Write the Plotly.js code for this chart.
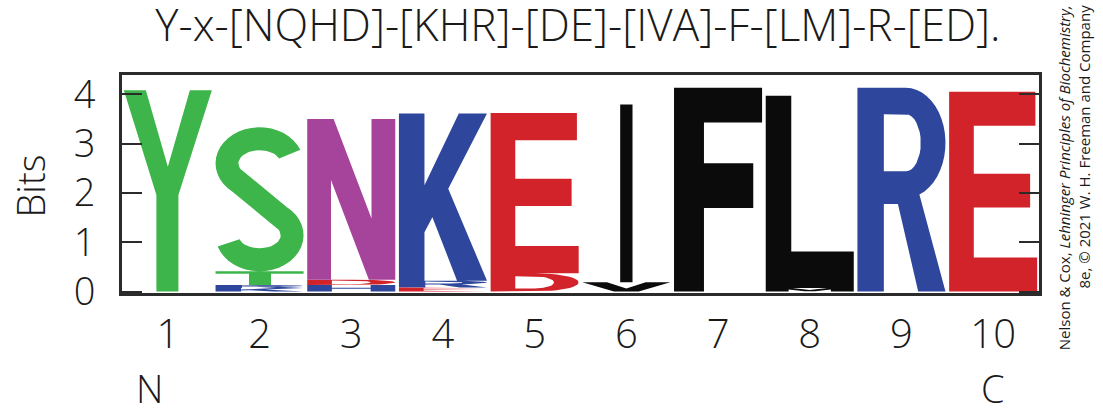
<!DOCTYPE html>
<html>
<head>
<meta charset="utf-8">
<script src="https://cdn.plot.ly/plotly-3.0.1.min.js"></script>
<style>
  html, body { margin: 0; padding: 0; background: #fff; }
  #logo { width: 1103px; height: 414px; }
</style>
</head>
<body>
<div id="logo"></div>
<script>
// motif logo data: letters of each position, stacked bottom -> top, heights in bits
const positions = [1, 2, 3, 4, 5, 6, 7, 8, 9, 10];
const stackLetters = [
  ['Y'],
  ['K', 'R', 'T', 'S'],
  ['H', 'D', 'N'],
  ['E', 'R', 'K'],
  ['D', 'E'],
  ['V', 'I'],
  ['F'],
  ['M', 'L'],
  ['R'],
  ['E']
];
const stackBits = [
  [4.08],
  [0.07, 0.06, 0.28, 2.92],
  [0.13, 0.11, 3.26],
  [0.08, 0.14, 3.39],
  [0.37, 3.25],
  [0.19, 3.6],
  [4.13],
  [0.07, 3.9],
  [4.13],
  [4.05]
];
const tickLabels = ['1', '2', '3', '4', '5', '6', '7', '8', '9', '10'];
const endLabels = ['N', 'C'];
const endPositions = [1, 10];
const motif = 'Y-x-[NQHD]-[KHR]-[DE]-[IVA]-F-[LM]-R-[ED].';

// residue colours (chemistry scheme)
const colors = {
  polar: '#3db54a', amide: '#a6449b', basic: '#2e479c', acidic: '#d2232a', hydrophobic: '#0b0b0b'
};
const letterGroup = {
  Y: 'polar', S: 'polar', T: 'polar',
  N: 'amide',
  K: 'basic', R: 'basic', H: 'basic',
  D: 'acidic', E: 'acidic',
  I: 'hydrophobic', V: 'hydrophobic', F: 'hydrophobic', L: 'hydrophobic', M: 'hydrophobic'
};

function arc(cx, cy, rx, ry, a0, a1, n) {
  const pts = [];
  for (let i = 0; i <= n; i++) {
    const a = (a0 + (a1 - a0) * i / n) * Math.PI / 180;
    pts.push([cx + rx * Math.cos(a), cy + ry * Math.sin(a)]);
  }
  return pts;
}

// glyph outlines in a unit box; first ring is the outline, the rest are holes
const sGlyph = [].concat(
  arc(0.5, 0.75, 0.5, 0.25, 22, 232, 24),
  arc(0.5, 0.25, 0.24, 0.09, 52, -162, 24),
  arc(0.5, 0.25, 0.5, 0.25, -162, 52, 24),
  arc(0.5, 0.75, 0.24, 0.09, 232, 22, 24)
);
const glyphs = {
  Y: [[[0, 1], [0.25, 1], [0.5, 0.62], [0.75, 1], [1, 1], [0.62, 0.48], [0.62, 0], [0.37, 0], [0.37, 0.48]]],
  S: [sGlyph],
  T: [[[0.38, 0], [0.38, 0.82], [0, 0.82], [0, 1], [1, 1], [1, 0.82], [0.63, 0.82], [0.63, 0]]],
  N: [[[0, 0], [0, 1], [0.3, 1], [0.73, 0.38], [0.73, 1], [1, 1], [1, 0], [0.7, 0], [0.27, 0.62], [0.27, 0]]],
  K: [[[0, 0], [0, 1], [0.29, 1], [0.29, 0.57], [0.68, 1], [1, 1], [0.56, 0.55], [1, 0], [0.66, 0], [0.38, 0.38], [0.29, 0.29], [0.29, 0]]],
  H: [[[0, 0], [0, 1], [0.28, 1], [0.28, 0.6], [0.72, 0.6], [0.72, 1], [1, 1], [1, 0], [0.72, 0], [0.72, 0.42], [0.28, 0.42], [0.28, 0]]],
  R: [
    [[0, 0], [0, 1], [0.55, 1]].concat(arc(0.55, 0.73, 0.45, 0.27, 90, -70, 20), [[1, 0], [0.69, 0], [0.46, 0.43], [0.3, 0.43], [0.3, 0]]),
    [[0.3, 0.59], [0.55, 0.59]].concat(arc(0.55, 0.73, 0.17, 0.14, -90, 90, 16), [[0.3, 0.87]])
  ],
  D: [
    [[0, 0], [0.5, 0]].concat(arc(0.5, 0.5, 0.5, 0.5, -90, 90, 24), [[0, 1]]),
    [[0.28, 0.17], [0.5, 0.17]].concat(arc(0.5, 0.5, 0.22, 0.33, -90, 90, 20), [[0.28, 0.83]])
  ],
  E: [[[0, 0], [1, 0], [1, 0.17], [0.28, 0.17], [0.28, 0.42], [0.92, 0.42], [0.92, 0.59], [0.28, 0.59], [0.28, 0.83], [0.98, 0.83], [0.98, 1], [0, 1]]],
  F: [[[0, 0], [0.34, 0], [0.34, 0.41], [0.9, 0.41], [0.9, 0.63], [0.34, 0.63], [0.34, 0.83], [1, 0.83], [1, 1], [0, 1]]],
  L: [[[0, 0], [1, 0], [1, 0.19], [0.29, 0.19], [0.29, 1], [0, 1]]],
  I: [[[0.43, 0], [0.57, 0], [0.57, 1], [0.43, 1]]],
  V: [[[0, 1], [0.28, 1], [0.5, 0.32], [0.72, 1], [1, 1], [0.64, 0], [0.36, 0]]],
  M: [[[0, 0], [0, 1], [0.3, 1], [0.5, 0.45], [0.7, 1], [1, 1], [1, 0], [0.74, 0], [0.74, 0.6], [0.56, 0.1], [0.44, 0.1], [0.26, 0.6], [0.26, 0]]]
};

function signedArea(ring) {
  let a = 0;
  for (let i = 0; i < ring.length; i++) {
    const p = ring[i], q = ring[(i + 1) % ring.length];
    a += p[0] * q[1] - q[0] * p[1];
  }
  return a / 2;
}

const colWidth = 0.96;
const byGroup = {};
positions.forEach((pos, i) => {
  let base = 0;
  stackLetters[i].forEach((ch, j) => {
    const h = stackBits[i][j];
    const group = letterGroup[ch];
    if (!byGroup[group]) byGroup[group] = { x: [], y: [] };
    glyphs[ch].forEach((ring, k) => {
      // outline counter-clockwise, holes clockwise so the fill leaves them open
      let r = ring.slice();
      const ccw = signedArea(r) > 0;
      if ((k === 0 && !ccw) || (k > 0 && ccw)) r.reverse();
      r.forEach(p => {
        byGroup[group].x.push(pos - colWidth / 2 + p[0] * colWidth);
        byGroup[group].y.push(base + p[1] * h);
      });
      byGroup[group].x.push(null);
      byGroup[group].y.push(null);
    });
    base += h;
  });
});

const traces = Object.keys(byGroup).map(g => ({
  x: byGroup[g].x,
  y: byGroup[g].y,
  type: 'scatter',
  mode: 'lines',
  fill: 'toself',
  fillcolor: colors[g],
  line: { width: 0, color: colors[g] },
  connectgaps: false,
  hoverinfo: 'skip',
  showlegend: false
}));

const sans = '"Open Sans", "Noto Sans", sans-serif';

const layout = {
  width: 1103,
  height: 414,
  margin: { l: 122, r: 64, t: 75, b: 121 },
  paper_bgcolor: '#fff',
  plot_bgcolor: '#fff',
  showlegend: false,
  title: {
    text: motif,
    font: { family: sans, size: 44, weight: 300, color: '#1a1a1a' },
    x: 0.524, xanchor: 'center',
    y: 0.938, yanchor: 'middle', yref: 'container'
  },
  xaxis: {
    range: [0.5, 10.5],
    tickvals: positions,
    ticktext: tickLabels,
    ticks: '',
    showgrid: false,
    zeroline: false,
    showline: true,
    mirror: true,
    linewidth: 3,
    linecolor: '#2b2b2b',
    ticklabelstandoff: 4,
    tickfont: { family: sans, size: 40, weight: 300, color: '#1a1a1a' },
    fixedrange: true
  },
  yaxis: {
    range: [-0.03, 4.39],
    tickvals: [0, 1, 2, 3, 4],
    ticks: 'inside',
    ticklen: 20,
    tickwidth: 2,
    tickcolor: '#2b2b2b',
    showgrid: false,
    zeroline: false,
    showline: true,
    mirror: 'ticks',
    linewidth: 3,
    linecolor: '#2b2b2b',
    ticklabelstandoff: 16,
    tickfont: { family: sans, size: 38, weight: 300, color: '#1a1a1a' },
    fixedrange: true
  },
  annotations: [
    {
      text: 'Bits', xref: 'paper', yref: 'paper', x: -0.1, y: 0.49,
      textangle: -90, showarrow: false, xanchor: 'center', yanchor: 'middle',
      font: { family: sans, size: 38, weight: 300, color: '#1a1a1a' }
    },
    {
      text: 'Nelson & Cox, <i>Lehninger Principles of Biochemistry,</i><br>8e, © 2021 W. H. Freeman and Company',
      xref: 'paper', yref: 'paper', x: 1.039, y: 0.53,
      textangle: -90, showarrow: false, align: 'right', xanchor: 'center', yanchor: 'middle',
      font: { family: sans, size: 15, color: '#1a1a1a' }
    }
  ].concat(endLabels.map((t, i) => ({
    text: t, xref: 'x', yref: 'paper', x: endPositions[i], y: -0.435,
    xshift: i === 0 ? -18 : 0,
    showarrow: false, xanchor: 'center', yanchor: 'middle',
    font: { family: sans, size: 38, weight: 300, color: '#1a1a1a' }
  })))
};

Plotly.newPlot('logo', traces, layout, { displayModeBar: false, staticPlot: true });
</script>
</body>
</html>
